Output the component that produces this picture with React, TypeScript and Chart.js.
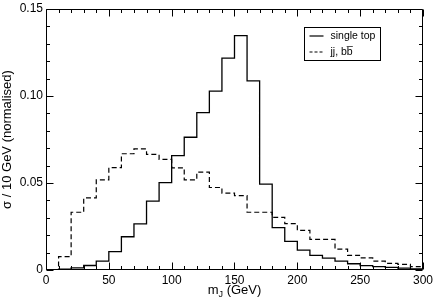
import React, { useEffect, useRef } from "react";
import { Chart, registerables } from "chart.js";

Chart.register(...registerables);

// Left edges of 10 GeV bins (GeV)
const binStarts = [0, 10, 20, 30, 40, 50, 60, 70, 80, 90, 100, 110, 120, 130, 140, 150, 160, 170, 180, 190, 200, 210, 220, 230, 240, 250, 260, 270, 280, 290];
const binEnd = 300;

// single top (solid)
const singleTop = [0, 0.0005, 0.0012, 0.0026, 0.0051, 0.0106, 0.0191, 0.0265, 0.0396, 0.0502, 0.0657, 0.0763, 0.0905, 0.1028, 0.1218, 0.1347, 0.1087, 0.0493, 0.0243, 0.0165, 0.0114, 0.0084, 0.0068, 0.0051, 0.0036, 0.0025, 0.0019, 0.0015, 0.0011, 0.0006];

// jj, bb (dashed)
const qcd = [0, 0.0077, 0.0332, 0.0414, 0.0518, 0.0588, 0.0668, 0.0696, 0.0664, 0.0636, 0.0587, 0.0518, 0.0562, 0.0474, 0.0442, 0.0427, 0.0332, 0.0332, 0.0303, 0.0266, 0.0228, 0.0176, 0.0176, 0.012, 0.0084, 0.007, 0.0051, 0.0038, 0.0032, 0.0019];

const seriesLabels = ["single top", "jj, b\u0062\u0305"];
const xTickValues = [0, 50, 100, 150, 200, 250, 300];
const yTickValues = [0, 0.05, 0.1, 0.15];
const xMinorStep = 10;
const yMinorStep = 0.01;
const yTitle = "\u03C3 / 10 GeV (normalised)";

const FONT = "'Liberation Sans', Arial, Helvetica, sans-serif";

function toPoints(values: number[]) {
  const pts = binStarts.map((x, i) => ({ x, y: values[i] }));
  pts.push({ x: binEnd, y: values[values.length - 1] });
  return pts;
}

const framePlugin = {
  id: "frame",
  afterDatasetsDraw(chart: any) {
    const { ctx, chartArea, scales } = chart;
    const { left, right, top, bottom } = chartArea;
    const xs = scales.x;
    const ys = scales.y;
    ctx.save();
    ctx.strokeStyle = "#000";
    ctx.lineWidth = 1;
    const L = Math.round(left) + 0.5;
    const R = Math.round(right) - 0.5;
    const T = Math.round(top) + 0.5;
    const B = Math.round(bottom) - 0.5;
    ctx.beginPath();
    ctx.rect(L, T, R - L, B - T);
    ctx.stroke();

    const majorLen = 7;
    const minorLen = 3.5;
    ctx.beginPath();
    for (let v = xs.min; v <= xs.max + 1e-9; v += xMinorStep) {
      const isMajor = xTickValues.some((t) => Math.abs(t - v) < 1e-6);
      const len = isMajor ? majorLen : minorLen;
      const px = Math.round(xs.getPixelForValue(v)) + 0.5;
      ctx.moveTo(px, B);
      ctx.lineTo(px, B - len);
      ctx.moveTo(px, T);
      ctx.lineTo(px, T + len);
    }
    const nY = Math.round((ys.max - ys.min) / yMinorStep);
    for (let i = 0; i <= nY; i++) {
      const v = ys.min + i * yMinorStep;
      const isMajor = yTickValues.some((t) => Math.abs(t - v) < 1e-6);
      const len = isMajor ? majorLen : minorLen;
      const py = Math.round(ys.getPixelForValue(v)) + 0.5;
      ctx.moveTo(L, py);
      ctx.lineTo(L + len, py);
      ctx.moveTo(R, py);
      ctx.lineTo(R - len, py);
    }
    ctx.stroke();

    // legend
    const bx = Math.round(right - 119) + 0.5;
    const by = Math.round(top + 18) + 0.5;
    const bw = 76;
    const bh = 33;
    ctx.fillStyle = "#fff";
    ctx.fillRect(bx, by, bw, bh);
    ctx.strokeStyle = "#000";
    ctx.lineWidth = 1;
    ctx.strokeRect(bx, by, bw, bh);
    const rows = [
      { label: seriesLabels[0], dash: [] as number[], y: by + 8.5 },
      { label: seriesLabels[1], dash: [3, 2], y: by + 24.5 },
    ];
    ctx.font = `10.5px ${FONT}`;
    ctx.fillStyle = "#000";
    ctx.textBaseline = "middle";
    ctx.textAlign = "left";
    rows.forEach((r) => {
      ctx.beginPath();
      ctx.setLineDash(r.dash);
      ctx.lineWidth = 1.2;
      ctx.moveTo(bx + 5, r.y);
      ctx.lineTo(bx + 19, r.y);
      ctx.stroke();
      ctx.setLineDash([]);
      ctx.fillText(r.label, bx + 26, r.y + 0.5);
    });

    // x axis title with subscript
    const cx = (left + right) / 2;
    const baseY = 294;
    const mainFont = `13px ${FONT}`;
    const subFont = `9px ${FONT}`;
    ctx.font = mainFont;
    const wM = ctx.measureText("m").width;
    const rest = " (GeV)";
    const wRest = ctx.measureText(rest).width;
    ctx.font = subFont;
    const wJ = ctx.measureText("J").width;
    const total = wM + wJ + wRest;
    let xPos = cx - total / 2;
    ctx.textBaseline = "alphabetic";
    ctx.font = mainFont;
    ctx.fillText("m", xPos, baseY);
    xPos += wM;
    ctx.font = subFont;
    ctx.fillText("J", xPos, baseY + 3);
    xPos += wJ;
    ctx.font = mainFont;
    ctx.fillText(rest, xPos, baseY);
    ctx.restore();
  },
};

export default function App() {
  const canvasRef = useRef<HTMLCanvasElement | null>(null);

  useEffect(() => {
    document.body.style.margin = "0";
    const canvas = canvasRef.current;
    if (!canvas) return;
    const chart = new Chart(canvas, {
      type: "line",
      data: {
        datasets: [
          {
            label: seriesLabels[0],
            data: toPoints(singleTop),
            stepped: "before",
            borderColor: "#000",
            borderWidth: 1.3,
            pointRadius: 0,
            fill: false,
          },
          {
            label: seriesLabels[1],
            data: toPoints(qcd),
            stepped: "before",
            borderColor: "#000",
            borderWidth: 1.2,
            borderDash: [5, 3],
            pointRadius: 0,
            fill: false,
          },
        ],
      },
      options: {
        animation: false,
        responsive: false,
        maintainAspectRatio: false,
        layout: { padding: { top: 6, right: 10, left: 0, bottom: 0 } },
        plugins: {
          legend: { display: false },
          tooltip: { enabled: false },
        },
        scales: {
          x: {
            type: "linear",
            min: 0,
            max: 300,
            grid: { display: false, drawTicks: false },
            border: { display: false },
            afterBuildTicks: (scale: any) => {
              scale.ticks = xTickValues.map((v) => ({ value: v }));
            },
            ticks: {
              padding: 3,
              color: "#000",
              font: { family: FONT, size: 12 },
              maxRotation: 0,
              callback: (v: any) => String(v),
            },
            afterFit: (scale: any) => {
              scale.height = 35;
            },
          },
          y: {
            type: "linear",
            min: 0,
            max: 0.15,
            grid: { display: false, drawTicks: false },
            border: { display: false },
            afterBuildTicks: (scale: any) => {
              scale.ticks = yTickValues.map((v) => ({ value: v }));
            },
            ticks: {
              padding: 3,
              color: "#000",
              font: { family: FONT, size: 12, lineHeight: 1 },
              callback: (v: any) => (Number(v) === 0 ? "0" : Number(v).toFixed(2)),
            },
            title: {
              display: true,
              text: yTitle,
              color: "#000",
              font: { family: FONT, size: 13 },
              padding: { top: 0, bottom: 0 },
            },
            afterFit: (scale: any) => {
              scale.width = 46;
            },
          },
        },
      },
      plugins: [framePlugin],
    });
    return () => chart.destroy();
  }, []);

  return (
    <div style={{ position: "absolute", left: 0, top: 0, width: 436, height: 305, background: "#fff" }}>
      <canvas ref={canvasRef} width={436} height={305} style={{ width: 436, height: 305 }} />
    </div>
  );
}
